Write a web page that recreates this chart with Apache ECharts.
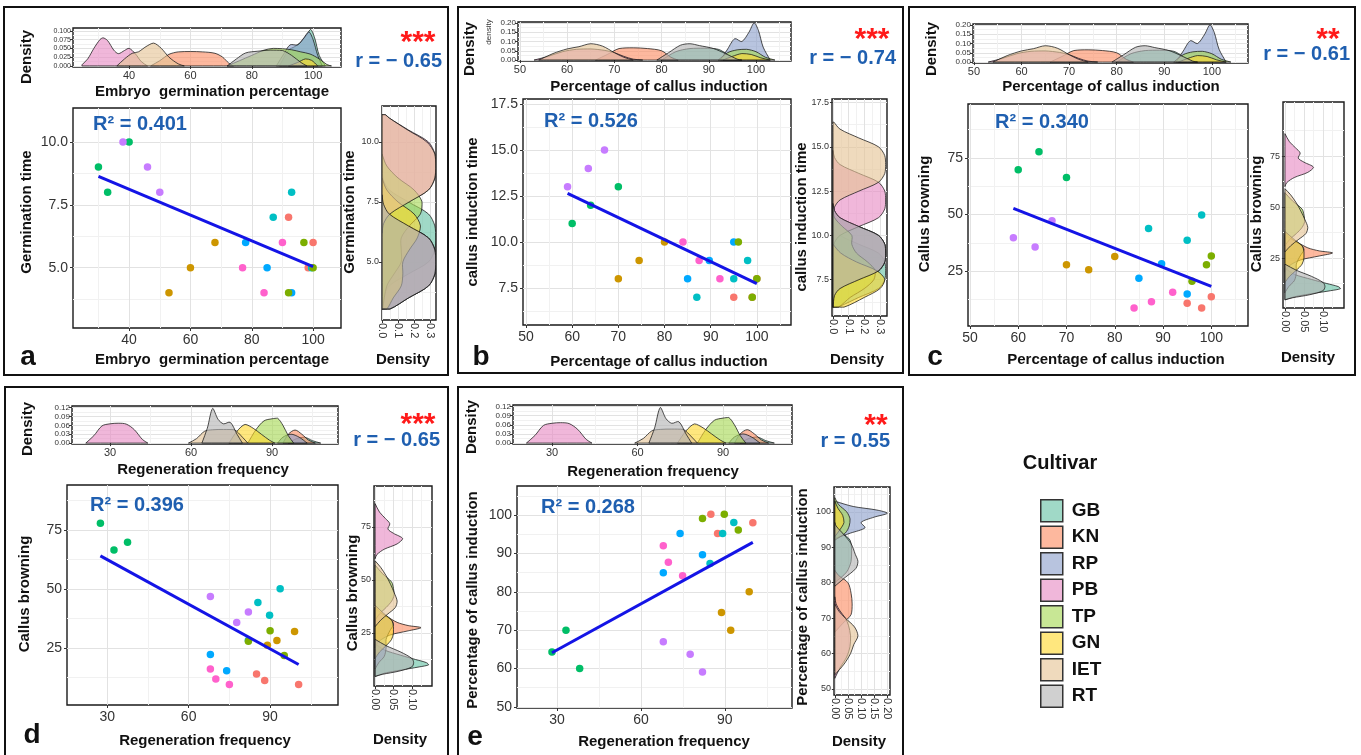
<!DOCTYPE html>
<html><head><meta charset="utf-8">
<script src="https://cdn.jsdelivr.net/npm/echarts@6/dist/echarts.min.js"></script>
<style>html,body{margin:0;padding:0;background:#fff}#c{width:1361px;height:755px}</style>
</head><body><div id="c"></div>
<script>
// ================= DATA =================
const cultivars = ['GB','KN','RP','PB','TP','GN','IET','RT'];

// tick labels
const ticksEmbryo = [40,60,80,100];           const minorEmbryo = [30,50,70,90];
const ticksCallusPct = [50,60,70,80,90,100];  const minorCallusPct = [55,65,75,85,95,105];
const ticksRegen = [30,60,90];                const minorRegen = [45,75,105];
const ticksGerm = [5,7.5,10];                 const minorGerm = [3.75,6.25,8.75];
const ticksInd = [7.5,10,12.5,15,17.5];       const minorInd = [6.25,8.75,11.25,13.75,16.25];
const ticksBrown = [25,50,75];                const minorBrown = [12.5,37.5,62.5,87.5];
const ticksDenA = [0,0.025,0.05,0.075,0.1];   const minorDenA = [0.0125,0.0375,0.0625,0.0875];
const ticksDenB = [0,0.05,0.1,0.15,0.2];      const minorDenB = [0.025,0.075,0.125,0.175];
const ticksDenD = [0,0.03,0.06,0.09,0.12];    const minorDenD = [0.015,0.045,0.075,0.105];
const ticksDenR1 = [0,0.1,0.2,0.3];           const minorDenR1 = [0.05,0.15,0.25];
const ticksDenR2 = [0,0.05,0.1];              const minorDenR2 = [0.025,0.075,0.125];
const ticksDenR3 = [0,0.05,0.1,0.15,0.2];     const minorDenR3 = [0.025,0.075,0.125,0.175];

// scatter points [x, y] per cultivar, panel a .. e
const a_GB=[[92,7],[98.4,5],[100,6]], a_KN=[[53,4],[60,5],[68,6]], a_RP=[[78,6],[85,5],[93,4]], a_PB=[[30,9],[33,8],[40,10]],
      a_TP=[[87,7],[93,8],[99.5,5]], a_GN=[[92,4],[97,6],[100,5]], a_IET=[[38,10],[46,9],[50,8]], a_RT=[[77,5],[84,4],[90,6]];
const b_GB=[[95,7],[99,7],[100,8]], b_KN=[[70,8],[74.5,9],[80,10]], b_RP=[[85,8],[89.7,9],[95,10]], b_PB=[[60,11],[64,12],[70,13]],
      b_TP=[[87,7],[95,8],[98,9]], b_GN=[[96,10],[99,7],[100,8]], b_IET=[[59,13],[63.5,14],[67,15]], b_RT=[[84,10],[87.5,9],[92,8]];
const c_GB=[[95,10.8],[98,8.7],[100,13.7]], c_KN=[[70,27.8],[74.6,25.6],[80,31.5]], c_RP=[[85,21.9],[89.7,28.3],[95,14.9]], c_PB=[[60,69.8],[64.3,77.7],[70,66.4]],
      c_TP=[[87,43.8],[95,38.6],[98,49.8]], c_GN=[[96,20.5],[99,27.8],[100,31.7]], c_IET=[[59,39.8],[63.5,35.7],[67,47.3]], c_RT=[[84,8.7],[87.6,11.5],[92,15.7]];
const d_GB=[[85,14],[88,11.2],[100.5,9.5]], d_KN=[[89,26.1],[92.5,28.2],[99,32]], d_RP=[[68,22.2],[74,15.4],[82,28.3]], d_PB=[[27.5,77.8],[32.5,66.5],[37.5,69.8]],
      d_TP=[[85.5,44.3],[89.8,38.8],[93.7,50.1]], d_GN=[[82,27.8],[90,32.3],[95.2,21.8]], d_IET=[[68,46.8],[77.7,35.8],[82,40.2]], d_RT=[[68,16.1],[70,11.9],[75,9.5]];
const e_GB=[[85,100.2],[87.4,95.2],[100,98]], e_KN=[[88.8,74.6],[92.1,70],[98.7,80]], e_RP=[[68,85],[74,95.2],[82,89.7]], e_PB=[[28.2,64.3],[33.2,70],[38.1,60]],
      e_TP=[[84.7,87.4],[89.2,95.2],[93.2,98.1]], e_GN=[[82,99.1],[89.8,100.2],[94.8,96.1]], e_IET=[[68,67],[77.6,63.7],[82,59.1]], e_RT=[[68,92],[69.8,87.7],[74.9,84.2]];

// regression line end points [x, y]
const fitA = [[30,8.63],[100,5.04]];
const fitB = [[59,12.64],[100,7.74]];
const fitC = [[59,52.7],[100,18.3]];
const fitD = [[27.5,64],[100.5,18]];
const fitE = [[28.2,64.1],[100,92.9]];

// statistics labels
const r2Labels = ['R² = 0.401','R² = 0.526','R² = 0.340','R² = 0.396','R² = 0.268'];
const rLabels = ['r = − 0.65','r = − 0.74','r = − 0.61','r = − 0.65','r = 0.55'];
const starLabels = ['***','***','**','***','**'];

// density curves [value, density] — Embryo germination percentage
const embGB=[[89,0],[92,0.045],[94,0.055],[96,0.068],[98,0.09],[99.2,0.104],[100.5,0.08],[102,0.03],[104,0]];
const embKN=[[47,0],[50,0.015],[53,0.033],[56,0.04],[60,0.041],[64,0.04],[68,0.036],[70.5,0.025],[72.5,0.008],[74,0]];
const embRP=[[88,0],[90.5,0.035],[92.5,0.06],[95,0.06],[97,0.08],[98.6,0.097],[100,0.075],[101.5,0.03],[103,0]];
const embPB=[[24.6,0.003],[26.5,0.02],[28.5,0.05],[30.5,0.075],[31.5,0.08],[33,0.072],[35,0.045],[36.5,0.035],[38.5,0.044],[40,0.05],[42,0.035],[44,0.012],[46,0]];
const embTP=[[72,0],[76,0.015],[80,0.03],[84,0.045],[87,0.05],[90,0.049],[93,0.046],[96,0.04],[99,0.034],[102,0.02],[104.5,0.004],[106,0]];
const embGN=[[92,0],[95,0.01],[97.5,0.02],[99.5,0.016],[101.5,0]];
const embIET=[[36,0],[38.5,0.02],[41,0.036],[43,0.04],[45.5,0.055],[48,0.065],[50.5,0.05],[53,0.025],[56,0.006],[58,0]];
const embRT=[[72,0],[75,0.02],[78,0.037],[82,0.042],[86,0.045],[90,0.044],[93,0.03],[96,0.01],[98,0]];
// Percentage of callus induction
const calGB=[[80,0],[83,0.045],[86,0.062],[89,0.064],[92,0.058],[94,0.03],[96,0.005],[97,0]];
const calKN=[[66,0],[68.5,0.03],[71,0.062],[74,0.066],[77,0.062],[80,0.05],[82,0.015],[83.5,0]];
const calRP=[[92.5,0],[94,0.06],[95.5,0.115],[97,0.1],[98.5,0.15],[99.6,0.2],[100.5,0.16],[101.5,0.07],[103,0]];
const calPB=[[53,0],[56,0.02],[59,0.045],[62,0.058],[65,0.06],[68,0.052],[70,0.04],[72,0.02],[74,0.005],[76,0]];
const calTP=[[92,0],[94,0.04],[96,0.055],[98,0.058],[100,0.045],[102,0.015],[104,0]];
const calGN=[[93,0],[95,0.02],[97,0.035],[99,0.03],[101,0.012],[103,0]];
const calIET=[[54,0],[57,0.035],[60,0.06],[62.5,0.072],[65,0.088],[67.5,0.075],[70,0.04],[72,0.015],[74,0]];
const calRT=[[79,0],[81.5,0.04],[84,0.08],[86,0.088],[88,0.078],[91,0.062],[93.5,0.035],[96,0.005],[97,0]];
// Regeneration frequency
const regGB=[[96,0],[99,0.015],[102,0.02],[105,0.008],[108,0]];
const regKN=[[94,0],[96,0.03],[98.5,0.044],[101,0.03],[103.5,0.01],[106,0]];
const regRP=[[92,0],[94,0.02],[97,0.03],[100,0.02],[103,0]];
const regPB=[[21,0],[24,0.025],[27,0.058],[30,0.065],[33,0.067],[36,0.064],[39,0.045],[42,0.012],[44,0]];
const regTP=[[81,0],[84,0.045],[87,0.075],[90,0.082],[92,0.084],[94,0.06],[96,0.025],[98,0]];
const regGN=[[74,0],[77,0.04],[80,0.063],[83,0.05],[86,0.03],[89,0.01],[91,0]];
const regIET=[[59,0],[62,0.015],[65,0.04],[68,0.045],[72,0.046],[76,0.045],[79,0.02],[81,0]];
const regRT=[[64,0],[66,0.05],[68,0.117],[70,0.08],[72,0.065],[74.5,0.07],[77,0.03],[79,0]];
// Germination time
const germGB=[[3.04,0.003],[3.5,0.01],[4.0,0.045],[4.5,0.165],[5.0,0.29],[5.5,0.33],[6.0,0.335],[6.5,0.33],[7.0,0.29],[7.5,0.165],[8.0,0.045],[8.4,0.01],[8.8,0]];
const germKN=[[3.04,0.05],[3.5,0.165],[4.0,0.29],[4.5,0.33],[5.0,0.335],[5.5,0.33],[6.0,0.29],[6.5,0.165],[7.0,0.045],[7.4,0.01],[7.8,0]];
const germRP=[[3.04,0.05],[3.5,0.165],[4.0,0.29],[4.5,0.33],[5.0,0.335],[5.5,0.33],[6.0,0.29],[6.5,0.165],[7.0,0.045],[7.4,0.01],[7.8,0]];
const germPB=[[6.2,0],[6.6,0.01],[7.0,0.045],[7.5,0.165],[8.0,0.29],[8.5,0.33],[9.0,0.335],[9.5,0.33],[10.0,0.29],[10.5,0.165],[11.0,0.045],[11.14,0.02]];
const germTP=[[3.04,0.003],[4.0,0.03],[4.5,0.075],[5.0,0.12],[5.5,0.12],[6.0,0.12],[6.5,0.17],[7.0,0.24],[7.5,0.25],[8.0,0.2],[8.5,0.1],[9.0,0.03],[9.5,0]];
const germGN=[[3.04,0.03],[3.5,0.07],[4.0,0.12],[4.5,0.13],[5.0,0.13],[5.5,0.17],[6.0,0.22],[6.5,0.24],[7.0,0.2],[7.5,0.1],[8.0,0.03],[8.5,0]];
const germIET=[[6.2,0],[6.6,0.01],[7.0,0.05],[7.5,0.17],[8.0,0.29],[8.5,0.33],[9.0,0.335],[9.5,0.33],[10.0,0.28],[10.5,0.16],[11.0,0.045],[11.14,0.02]];
const germRT=[[3.04,0.05],[3.5,0.165],[4.0,0.29],[4.5,0.33],[5.0,0.335],[5.5,0.33],[6.0,0.29],[6.5,0.165],[7.0,0.045],[7.4,0.01],[7.8,0]];
// Callus induction time
const indGB=[[5.95,0.02],[6.0,0.045],[6.5,0.165],[7.0,0.29],[7.5,0.33],[8.0,0.335],[8.5,0.33],[9.0,0.29],[9.5,0.165],[10.0,0.045],[10.4,0.01],[10.8,0]];
const indKN=[[5.95,0.001],[6.6,0.01],[7.0,0.045],[7.5,0.165],[8.0,0.29],[8.5,0.33],[9.0,0.335],[9.5,0.33],[10.0,0.29],[10.5,0.165],[11.0,0.045],[11.4,0.01],[11.8,0]];
const indRP=[[5.95,0.001],[6.6,0.01],[7.0,0.045],[7.5,0.165],[8.0,0.29],[8.5,0.33],[9.0,0.335],[9.5,0.33],[10.0,0.29],[10.5,0.165],[11.0,0.045],[11.4,0.01],[11.8,0]];
const indPB=[[9.2,0],[9.6,0.01],[10.0,0.045],[10.5,0.165],[11.0,0.29],[11.5,0.33],[12.0,0.335],[12.5,0.33],[13.0,0.29],[13.5,0.165],[14.0,0.045],[14.4,0.01],[14.8,0]];
const indTP=[[5.95,0.035],[6.5,0.11],[7.0,0.2],[7.5,0.26],[8.0,0.27],[8.5,0.22],[9.0,0.15],[9.5,0.12],[10.0,0.12],[10.5,0.06],[11.0,0.01],[11.4,0]];
const indGN=[[5.95,0.07],[6.5,0.2],[7.0,0.3],[7.5,0.33],[8.0,0.28],[8.5,0.15],[9.0,0.05],[9.5,0]];
const indIET=[[11.2,0],[11.6,0.01],[12.0,0.045],[12.5,0.165],[13.0,0.29],[13.5,0.33],[14.0,0.335],[14.5,0.33],[15.0,0.29],[15.5,0.165],[16.0,0.045],[16.4,0.005]];
const indRT=[[5.95,0.001],[6.6,0.01],[7.0,0.045],[7.5,0.165],[8.0,0.29],[8.5,0.33],[9.0,0.335],[9.5,0.33],[10.0,0.29],[10.5,0.165],[11.0,0.045],[11.4,0.01],[11.8,0]];
// Callus browning
const brnGB=[[4.5,0],[6,0.025],[7.5,0.07],[9,0.12],[10,0.146],[11,0.14],[12.5,0.11],[14.5,0.07],[17,0.025],[20,0]];
const brnKN=[[18,0],[21,0.01],[24,0.04],[26,0.09],[27.5,0.125],[28.5,0.09],[30,0.06],[33,0.03],[36,0]];
const brnRP=[[8,0],[11,0.01],[14,0.025],[18,0.03],[22,0.03],[26,0.04],[29,0.05],[31,0.045],[34,0.02],[37,0]];
const brnPB=[[60,0],[62,0.005],[64.5,0.025],[67,0.06],[69.5,0.075],[72,0.05],[74,0.035],[76.5,0.04],[79,0.028],[82,0.012],[86,0]];
const brnTP=[[31,0],[34,0.012],[37,0.03],[40,0.045],[43,0.052],[46,0.05],[49,0.045],[53,0.02],[57,0]];
const brnGN=[[13,0],[16,0.012],[19,0.03],[22,0.045],[25,0.05],[28,0.05],[31,0.045],[34,0.025],[38,0]];
const brnIET=[[28,0],[31,0.015],[34,0.035],[37,0.055],[40,0.06],[44,0.052],[48,0.042],[52,0.03],[56,0.015],[59,0]];
const brnRT=[[4.5,0],[5.5,0.02],[7,0.065],[9,0.1],[11,0.105],[13,0.1],[16,0.07],[19,0.03],[22,0]];

// ================= STYLE =================
const FONT = '"Liberation Sans", Arial, sans-serif';
const TXT_BLUE = '#1f5fb0';
const fillColors = {GB:'rgba(102,194,165,0.62)',KN:'rgba(252,141,98,0.62)',RP:'rgba(141,160,203,0.62)',PB:'rgba(231,138,195,0.62)',
                    TP:'rgba(166,216,84,0.62)',GN:'rgba(255,217,47,0.62)',IET:'rgba(229,196,148,0.62)',RT:'rgba(179,179,179,0.62)'};
const pointColors = {GB:'#F8766D',KN:'#CD9600',RP:'#00A9FF',PB:'#00BE67',TP:'#00BFC4',GN:'#7CAE00',IET:'#C77CFF',RT:'#FF61CC'};

const embDens=[embGB,embKN,embRP,embPB,embTP,embGN,embIET,embRT];
const calDens=[calGB,calKN,calRP,calPB,calTP,calGN,calIET,calRT];
const regDens=[regGB,regKN,regRP,regPB,regTP,regGN,regIET,regRT];
const germDens=[germGB,germKN,germRP,germPB,germTP,germGN,germIET,germRT];
const indDens=[indGB,indKN,indRP,indPB,indTP,indGN,indIET,indRT];
const brnDens=[brnGB,brnKN,brnRP,brnPB,brnTP,brnGN,brnIET,brnRT];

function ax(range, major, minor, dec, fs, margin, rotate){ return {range, major, minor, dec, fs, margin, rotate:rotate||0}; }

const panels = [
 { frame:[4,7,444,368],
   top:{rect:[73,28,268,39], x:ax([21.7,109.1],ticksEmbryo,minorEmbryo,0,11,3), y:ax([-0.003,0.108],ticksDenA,minorDenA,3,7,2), dens:embDens},
   main:{rect:[73,108,268,220], x:ax([21.7,109.1],ticksEmbryo,minorEmbryo,0,14,5), y:ax([2.6,11.35],ticksGerm,minorGerm,1,14,5)},
   right:{rect:[382,106,54,214], x:ax([0,0.337],ticksDenR1,minorDenR1,1,11,3,-90), y:ax([2.58,11.5],ticksGerm,minorGerm,1,9,3), dens:germDens},
   pts:[a_GB,a_KN,a_RP,a_PB,a_TP,a_GN,a_IET,a_RT], fit:fitA },
 { frame:[458,7,445,366],
   top:{rect:[518,22,273,39], x:ax([49.6,107.4],ticksCallusPct,minorCallusPct,0,11,3), y:ax([-0.005,0.205],ticksDenB,minorDenB,2,8,2), dens:calDens},
   main:{rect:[523,99,268,226], x:ax([49.35,107.4],ticksCallusPct,minorCallusPct,0,14,5), y:ax([5.49,17.77],ticksInd,minorInd,1,14,5)},
   right:{rect:[832,99,55,217], x:ax([-0.006,0.344],ticksDenR1,minorDenR1,1,11,3,-90), y:ax([5.45,17.7],ticksInd,minorInd,1,9,3), dens:indDens},
   pts:[b_GB,b_KN,b_RP,b_PB,b_TP,b_GN,b_IET,b_RT], fit:fitB },
 { frame:[909,7,446,368],
   top:{rect:[973,24,275,39], x:ax([49.8,107.6],ticksCallusPct,minorCallusPct,0,11,3), y:ax([-0.005,0.205],ticksDenB,minorDenB,2,8,2), dens:calDens},
   main:{rect:[968,104,280,222], x:ax([49.6,107.6],ticksCallusPct,minorCallusPct,0,14,5), y:ax([0.8,98.8],ticksBrown,minorBrown,0,14,5)},
   right:{rect:[1283,102,61,206], x:ax([-0.005,0.155],ticksDenR2,minorDenR2,2,11,3,-90), y:ax([0.5,101.5],ticksBrown,minorBrown,0,9,3), dens:brnDens},
   pts:[c_GB,c_KN,c_RP,c_PB,c_TP,c_GN,c_IET,c_RT], fit:fitC },
 { frame:[5,387,443,372],
   top:{rect:[72,406,266,38], x:ax([15.9,114.4],ticksRegen,minorRegen,0,11,3), y:ax([-0.003,0.125],ticksDenD,minorDenD,2,8,2), dens:regDens},
   main:{rect:[67,485,271,220], x:ax([15.2,115],ticksRegen,minorRegen,0,14,5), y:ax([0.85,94],ticksBrown,minorBrown,0,14,5)},
   right:{rect:[374,486,58,200], x:ax([-0.003,0.155],ticksDenR2,minorDenR2,2,11,3,-90), y:ax([0,94.3],ticksBrown,minorBrown,0,9,3), dens:brnDens},
   pts:[d_GB,d_KN,d_RP,d_PB,d_TP,d_GN,d_IET,d_RT], fit:fitD },
 { frame:[458,387,445,372],
   top:{rect:[513,405,279,39], x:ax([16.3,114.2],ticksRegen,minorRegen,0,11,3), y:ax([-0.003,0.125],ticksDenD,minorDenD,2,8,2), dens:regDens},
   main:{rect:[517,486,275,222], x:ax([15.7,114],ticksRegen,minorRegen,0,14,5), y:ax([49.7,107.6],ticksCallusPct,minorCallusPct,0,14,5)},
   right:{rect:[834,487,56,208], x:ax([-0.003,0.21],ticksDenR3,minorDenR3,2,11,3,-90), y:ax([48.3,107],ticksCallusPct,minorCallusPct,0,9,3), dens:calDens},
   pts:[e_GB,e_KN,e_RP,e_PB,e_TP,e_GN,e_IET,e_RT], fit:fitE }
];

// text placements
const T = (t,x,y,o) => Object.assign({t,x,y,size:15,weight:'bold',color:'#111',rot:false,align:'center'}, o||{});
const texts = [
 // a
 T('Density',27,57,{rot:true}), T('Embryo  germination percentage',212,92), T('Germination time',27,212,{rot:true}),
 T('Embryo  germination percentage',212,360), T('a',28,357,{size:28}), T(r2Labels[0],93,124,{size:20,color:TXT_BLUE,align:'left'}),
 T(starLabels[0],418,43,{size:30,color:'#ff1a1a'}), T(rLabels[0],442,61,{size:20,color:TXT_BLUE,align:'right'}),
 T('Germination time',350,212,{rot:true}), T('Density',403,360),
 // b
 T('Density',470,49,{rot:true}), T('density',489,32,{rot:true,size:8,weight:'normal',color:'#333'}), T('Percentage of callus induction',659,87),
 T('callus induction time',473,212,{rot:true}), T('Percentage of callus induction',659,362), T('b',481,357,{size:28}),
 T(r2Labels[1],544,121,{size:20,color:TXT_BLUE,align:'left'}), T(starLabels[1],872,40,{size:30,color:'#ff1a1a'}),
 T(rLabels[1],896,58,{size:20,color:TXT_BLUE,align:'right'}), T('callus induction time',802,217,{rot:true}), T('Density',857,360),
 // c
 T('Density',932,49,{rot:true}), T('Percentage of callus induction',1111,87), T('Callus browning',925,214,{rot:true}),
 T('Percentage of callus induction',1116,360), T('c',935,357,{size:28}), T(r2Labels[2],995,122,{size:20,color:TXT_BLUE,align:'left'}),
 T(starLabels[2],1328,40,{size:30,color:'#ff1a1a'}), T(rLabels[2],1350,54,{size:20,color:TXT_BLUE,align:'right'}),
 T('Callus browning',1257,214,{rot:true}), T('Density',1308,358),
 // d
 T('Density',28,429,{rot:true}), T('Regeneration frequency',203,470), T('Callus browning',25,594,{rot:true}),
 T('Regeneration frequency',205,741), T('d',32,735,{size:28}), T(r2Labels[3],90,505,{size:20,color:TXT_BLUE,align:'left'}),
 T(starLabels[3],418,425,{size:30,color:'#ff1a1a'}), T(rLabels[3],440,440,{size:20,color:TXT_BLUE,align:'right'}),
 T('Callus browning',353,593,{rot:true}), T('Density',400,740),
 // e
 T('Density',472,427,{rot:true}), T('Regeneration frequency',653,472), T('Percentage of callus induction',473,600,{rot:true}),
 T('Regeneration frequency',664,742), T('e',475,737,{size:28}), T(r2Labels[4],541,507,{size:20,color:TXT_BLUE,align:'left'}),
 T(starLabels[4],876,426,{size:30,color:'#ff1a1a'}), T(rLabels[4],890,441,{size:20,color:TXT_BLUE,align:'right'}),
 T('Percentage of callus induction',803,597,{rot:true}), T('Density',859,742),
 // legend title
 T('Cultivar',1060,463,{size:20})
];

// ================= BUILD =================
const option = { animation:false, backgroundColor:'#ffffff', grid:[], xAxis:[], yAxis:[], series:[], graphic:[] };

function majorAxis(g,pos,a){
  return {type:'value', gridIndex:g, position:pos, min:a.range[0], max:a.range[1], scale:true,
    axisLine:{show:false},
    axisTick:{show:true, length:3, lineStyle:{color:'#333',width:1}, customValues:a.major},
    axisLabel:{show:true, customValues:a.major, formatter:v=>Number(v).toFixed(a.dec), fontSize:a.fs, color:'#333',
               margin:a.margin, rotate:a.rotate, fontFamily:FONT, hideOverlap:false, showMinLabel:true, showMaxLabel:true},
    splitLine:{show:true, lineStyle:{color:'#e2e2e2',width:1}}, minorTick:{show:false}, minorSplitLine:{show:false}};
}
function minorAxis(g,pos,a){
  return {type:'value', gridIndex:g, position:pos, min:a.range[0], max:a.range[1], scale:true,
    axisLine:{show:false}, axisTick:{show:false, customValues:a.minor}, axisLabel:{show:false, customValues:a.minor},
    splitLine:{show:true, lineStyle:{color:'#f1f1f1',width:1}}};
}
function addGrid(spec){
  const g = option.grid.length;
  option.grid.push({left:spec.rect[0], top:spec.rect[1], width:spec.rect[2], height:spec.rect[3], show:true,
    borderColor:'#1a1a1a', borderWidth:1.4, backgroundColor:'#ffffff', containLabel:false, outerBoundsMode:'none'});
  const xi = option.xAxis.length, yi = option.yAxis.length;
  option.xAxis.push(minorAxis(g,'top',spec.x), majorAxis(g,'bottom',spec.x));
  option.yAxis.push(minorAxis(g,'right',spec.y), majorAxis(g,'left',spec.y));
  return {xi:xi+1, yi:yi+1};
}
function densSeries(name, arr, axes, vertical){
  const data = arr.map(p => vertical ? [p[1], p[0]] : [p[0], p[1]]);
  return {type:'custom', name, xAxisIndex:axes.xi, yAxisIndex:axes.yi, clip:true, z:2, silent:true,
    encode:{x:0, y:1}, data,
    renderItem:function(params, api){
      if (params.dataIndex !== 0) return null;
      const ring = data.map(d => api.coord(d));
      const first = data[0], last = data[data.length-1];
      if (vertical) ring.push(api.coord([0,last[1]]), api.coord([0,first[1]]));
      else ring.push(api.coord([last[0],0]), api.coord([first[0],0]));
      return {type:'polygon', shape:{points:ring, smooth:0.3, smoothConstraint:[ring[0].slice(), ring[0].slice()]},
        style:{fill:fillColors[name], stroke:'rgba(25,25,25,0.85)', lineWidth:0.9}};
    }};
}

panels.forEach(p => {
  const t = addGrid(p.top);
  p.top.dens.forEach((arr,i) => option.series.push(densSeries(cultivars[i], arr, t, false)));
  const m = addGrid(p.main);
  p.pts.forEach((arr,i) => option.series.push({type:'scatter', name:'pt-'+cultivars[i], xAxisIndex:m.xi, yAxisIndex:m.yi,
    data:arr, symbolSize:7.5, itemStyle:{color:pointColors[cultivars[i]], opacity:1}, z:3, silent:true}));
  option.series.push({type:'line', name:'fit', xAxisIndex:m.xi, yAxisIndex:m.yi, data:p.fit, symbol:'none',
    lineStyle:{color:'#1414e6', width:3}, z:4, silent:true});
  const r = addGrid(p.right);
  p.right.dens.forEach((arr,i) => option.series.push(densSeries(cultivars[i], arr, r, true)));
  option.graphic.push({type:'rect', shape:{x:p.frame[0], y:p.frame[1], width:p.frame[2], height:p.frame[3]},
    style:{fill:null, stroke:'#111', lineWidth:2}, z:100, silent:true});
});

texts.forEach(o => option.graphic.push({type:'text', x:o.x, y:o.y, rotation:o.rot?Math.PI/2:0, z:101, silent:true,
  style:{text:o.t, fontSize:o.size, fontWeight:o.weight, fontFamily:FONT, fill:o.color, align:o.align, verticalAlign:'middle'}}));

option.legend = {orient:'vertical', left:1035, top:494, itemWidth:22, itemHeight:22, itemGap:3, icon:'rect', selectedMode:false,
  textStyle:{fontSize:19, fontWeight:'bold', color:'#111', fontFamily:FONT, padding:[0,0,0,4]},
  data: cultivars.map(c => ({name:c, itemStyle:{color:fillColors[c], borderColor:'#333', borderWidth:1.5}}))};

const chart = echarts.init(document.getElementById('c'), null, {renderer:'canvas'});
chart.setOption(option);
</script></body></html>
